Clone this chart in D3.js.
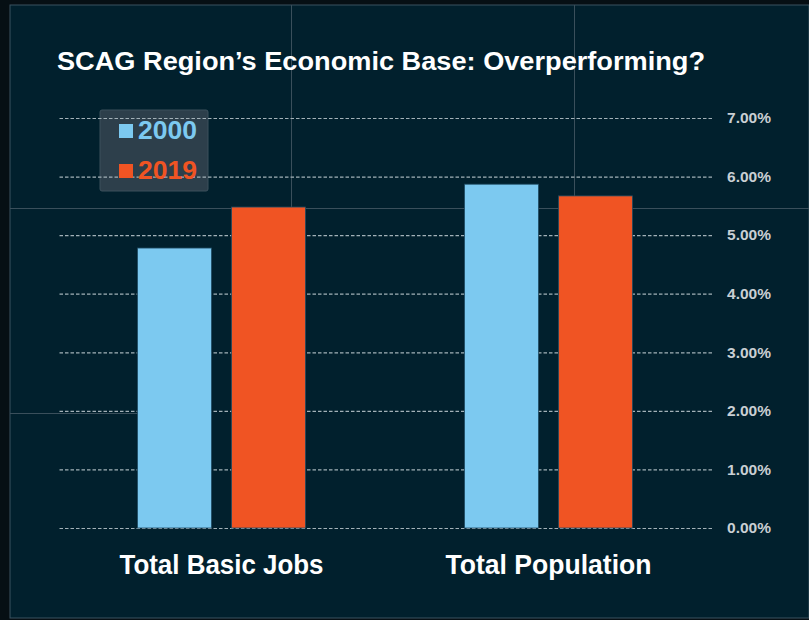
<!DOCTYPE html>
<meta charset="utf-8">
<script src="https://d3js.org/d3.v7.min.js"></script>
<style>
  body { margin: 0; background: #060f14; }
  text { font-family: "Liberation Sans", Arial, sans-serif; }
  .tick text { font-size: 15px; font-weight: bold; }
</style>
<body>
<div id="chart"></div>
<script>
// data
var categories = ["Total Basic Jobs", "Total Population"];
var series = ["2000", "2019"];
var values2000 = [0.0478, 0.0587];
var values2019 = [0.0548, 0.0567];
var tickValues = [0, 0.01, 0.02, 0.03, 0.04, 0.05, 0.06, 0.07];
var colors = {"2000": "#7cc9f0", "2019": "#f05423"};

var W = 809, H = 620;
var plotLeft = 58, plotRight = 712, plotTop = 118, plotBottom = 528;

var svg = d3.select("#chart").append("svg")
    .attr("width", W)
    .attr("height", H);

// slide background + faint guide lines
svg.append("rect").attr("x", 10).attr("y", 5).attr("width", W - 10).attr("height", 613)
    .attr("fill", "#01202d").attr("stroke", "#3a5260").attr("stroke-width", 1);
var guide = svg.append("g").attr("stroke", "#3a4f5b").attr("stroke-width", 1);
guide.append("line").attr("x1", 291.5).attr("x2", 291.5).attr("y1", 5).attr("y2", 208);
guide.append("line").attr("x1", 574.5).attr("x2", 574.5).attr("y1", 5).attr("y2", 208);
guide.append("line").attr("x1", 10).attr("x2", W).attr("y1", 208.5).attr("y2", 208.5);
guide.append("line").attr("x1", 10).attr("x2", 140).attr("y1", 413.5).attr("y2", 413.5);

var y = d3.scaleLinear().domain([0, 0.07]).range([plotBottom, plotTop]);
var x0 = d3.scaleBand().domain(categories).range([plotLeft, plotRight]);
var x1 = d3.scaleBand().domain(series).range([0, 168]).paddingInner(20 / 94);
var groupOffset = (x0.bandwidth() - 168) / 2;

// title
svg.append("text")
    .attr("x", 57).attr("y", 70)
    .attr("fill", "#ffffff")
    .style("font-size", "26px")
    .style("font-weight", "bold")
    .attr("textLength", 648)
    .attr("lengthAdjust", "spacingAndGlyphs")
    .text("SCAG Region\u2019s Economic Base: Overperforming?");

// legend box (under the grid lines)
svg.append("rect")
    .attr("x", 100).attr("y", 110).attr("width", 108).attr("height", 81)
    .attr("rx", 2)
    .attr("fill", "#2d3f4b").attr("stroke", "#3d515d");

// grid + right axis
var axis = svg.append("g")
    .attr("transform", "translate(" + plotRight + ",0)")
    .call(d3.axisRight(y).tickValues(tickValues)
      .tickFormat(d3.format(".2%"))
      .tickSize(-(plotRight - plotLeft)).tickPadding(15));
axis.select(".domain").remove();
axis.attr("font-size", null).attr("font-family", null);
axis.selectAll(".tick line")
    .attr("stroke", "#a3b1b8")
    .attr("stroke-width", 1.2)
    .attr("stroke-dasharray", "3.5,2");
axis.selectAll(".tick text")
    .attr("fill", "#c9cfd3")
    .attr("textLength", 44)
    .attr("lengthAdjust", "spacingAndGlyphs");

// bars
var rows = categories.map(function(c, i) {
  return {category: c, values: [{key: "2000", v: values2000[i]}, {key: "2019", v: values2019[i]}]};
});

var groups = svg.append("g").selectAll("g")
    .data(rows)
    .enter().append("g")
    .attr("transform", function(d) { return "translate(" + (x0(d.category) + groupOffset) + ",0)"; });

groups.selectAll("rect")
    .data(function(d) { return d.values; })
    .enter().append("rect")
    .attr("x", function(d) { return x1(d.key); })
    .attr("y", function(d) { return y(d.v); })
    .attr("width", x1.bandwidth())
    .attr("height", function(d) { return y(0) - y(d.v); })
    .attr("fill", function(d) { return colors[d.key]; })
    .attr("stroke", "#1f4a62")
    .attr("stroke-width", 0.8);

// category labels
svg.append("g").selectAll("text")
    .data(categories)
    .enter().append("text")
    .attr("x", function(d) { return x0(d) + x0.bandwidth() / 2; })
    .attr("y", 574)
    .attr("text-anchor", "middle")
    .attr("fill", "#ffffff")
    .style("font-size", "28px")
    .style("font-weight", "bold")
    .attr("textLength", function(d, i) { return i === 0 ? 204 : 206; })
    .attr("lengthAdjust", "spacingAndGlyphs")
    .text(function(d) { return d; });

// legend entries
var leg = svg.append("g").selectAll("g")
    .data(series)
    .enter().append("g")
    .attr("transform", function(d, i) { return "translate(119," + (124 + i * 40) + ")"; });
leg.append("rect")
    .attr("width", 14).attr("height", 14)
    .attr("fill", function(d) { return colors[d]; });
leg.append("text")
    .attr("x", 19).attr("y", 15)
    .attr("fill", function(d) { return colors[d]; })
    .style("font-size", "25px")
    .style("font-weight", "bold")
    .attr("textLength", 59)
    .attr("lengthAdjust", "spacingAndGlyphs")
    .text(function(d) { return d; });
</script>
</body>
